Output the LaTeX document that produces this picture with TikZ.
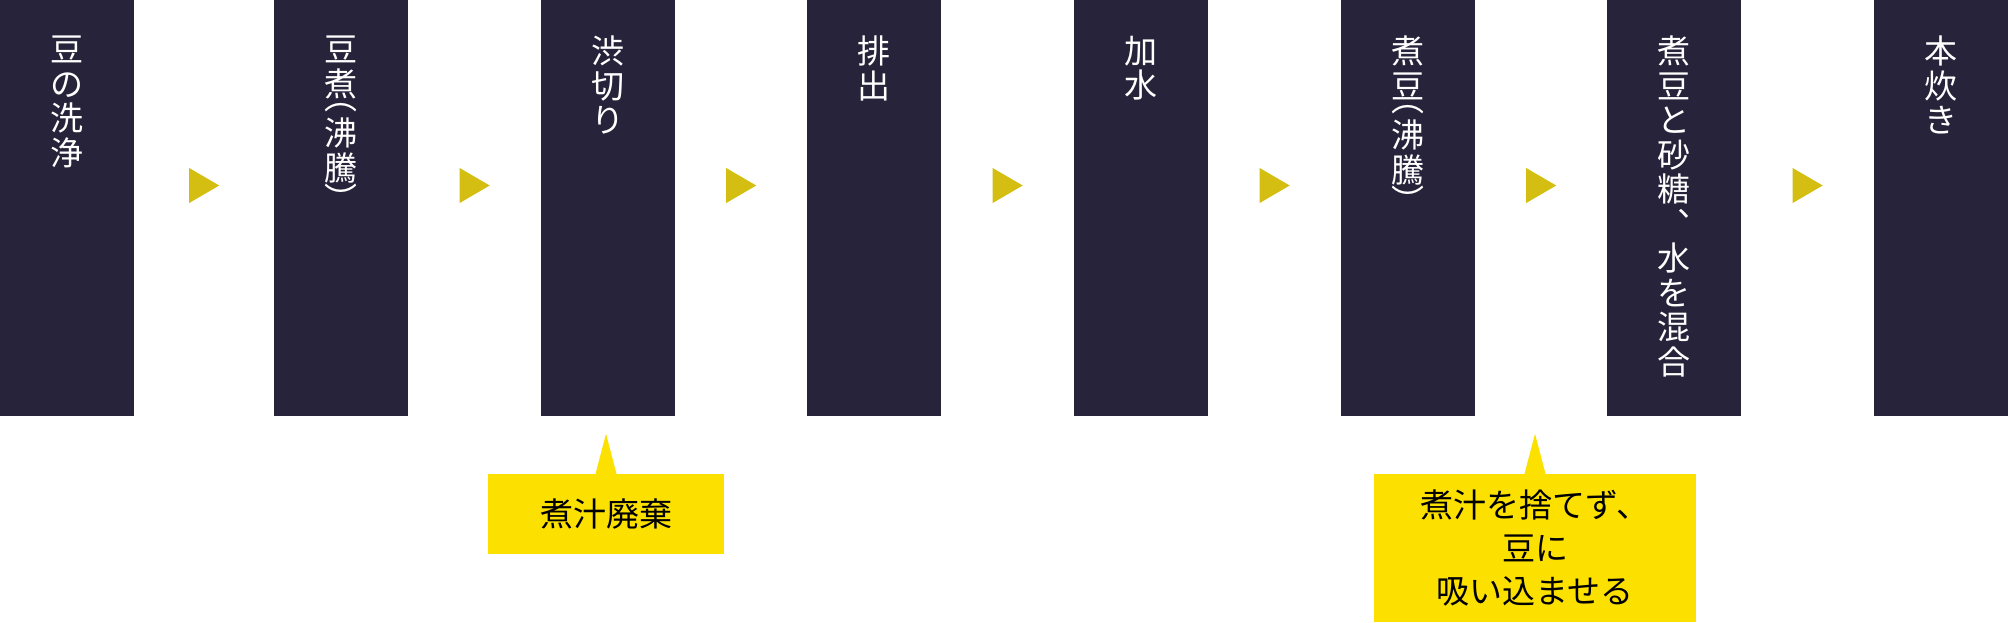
\documentclass[tikz,border=0pt]{standalone}
\usepackage{fontspec}
\setmainfont{Noto Sans CJK JP}
\usetikzlibrary{calc}
\definecolor{stepnavy}{RGB}{38,35,58}
\definecolor{markgold}{RGB}{212,190,18}
\definecolor{noteyellow}{RGB}{252,224,0}
\tikzset{
  stepbox/.style={fill=stepnavy, minimum width=134pt, minimum height=416pt, inner sep=0pt, anchor=north west},
  steptext/.style={text=white, align=center, inner sep=0pt, anchor=north, font=\fontsize{33}{34.5}\selectfont},
  arrowmark/.style={fill=markgold},
  notebox/.style={fill=noteyellow, inner sep=0pt, align=center, font=\fontsize{33}{43}\selectfont},
  notetip/.style={fill=noteyellow},
}
\begin{document}
\begin{tikzpicture}[x=1pt,y=-1pt]
  \useasboundingbox (0,0) rectangle (2008,622);
  % process steps
  \foreach \px/\txt [count=\i] in {0/{豆\\の\\洗\\浄}, 274/{豆\\煮\\[-21pt]︵\\[1.5pt]沸\\騰\\[-3pt]︶},
      541/{渋\\切\\り}, 807/{排\\出}, 1074/{加\\水}, 1341/{煮\\豆\\[-21pt]︵\\[1.5pt]沸\\騰\\[-3pt]︶},
      1607/{煮\\豆\\と\\砂\\糖\\︑\\水\\を\\混\\合}, 1874/{本\\炊\\き}}{
    \node[stepbox] (s\i) at (\px,0) {};
    \node[steptext] (t\i) at ($(s\i.north)+(0,36)$) {\txt};
  }
  % arrows between steps
  \foreach \i [evaluate=\i as \j using int(\i+1)] in {1,...,7}
    \fill[arrowmark] ($(s\i.north east)!0.5!(s\j.north west)+(-15,168)$)
      -- ++(30,17.5) -- ++(-30,17.5) -- cycle;
  % notes
  \node[notebox, minimum width=236pt, minimum height=80pt] (n1) at (606,514) {煮汁廃棄};
  \fill[notetip] ([xshift=-10.5pt]n1.north) -- ++(10.5,-40) -- ++(10.5,40) -- cycle;
  \node[notebox, minimum width=322pt, minimum height=148pt] (n2) at (1535,548)
    {煮汁を捨てず、\\豆に\\吸い込ませる};
  \fill[notetip] ([xshift=-10.5pt]n2.north) -- ++(10.5,-40) -- ++(10.5,40) -- cycle;
\end{tikzpicture}
\end{document}
